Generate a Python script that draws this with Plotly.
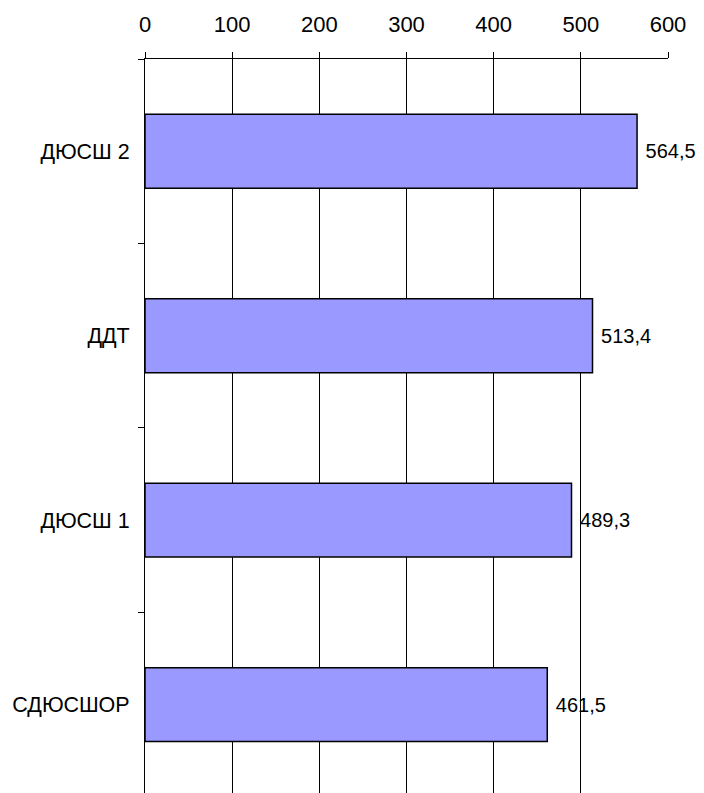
import plotly.graph_objects as go

# data
categories = ["ДЮСШ 2", "ДДТ", "ДЮСШ 1", "СДЮСШОР"]
values = [564.5, 513.4, 489.3, 461.5]
value_labels = ["564,5", "513,4", "489,3", "461,5"]
x_ticks = [0, 100, 200, 300, 400, 500, 600]

FONT = "Liberation Sans, Arial, sans-serif"

fig = go.Figure(
    go.Bar(
        x=values,
        y=categories,
        orientation="h",
        width=0.4,
        marker=dict(color="#9999FF", line=dict(color="black", width=1.5)),
        # leading space gives the gap between bar end and label
        text=[" " + s for s in value_labels],
        textposition="outside",
        textfont=dict(size=20, color="black", family=FONT),
        cliponaxis=False,
    )
)

# page body adds an 8px offset, margins compensate for it
fig.update_layout(
    width=704,
    height=793,
    plot_bgcolor="white",
    paper_bgcolor="white",
    font=dict(family=FONT, size=22, color="black"),
    margin=dict(l=137, r=44, t=51, b=0),
    showlegend=False,
)

fig.update_xaxes(
    side="top",
    range=[0, 600],
    tickvals=x_ticks,
    ticks="outside",
    ticklen=6,
    tickcolor="black",
    showline=True,
    linecolor="black",
    linewidth=1,
    showgrid=True,
    gridcolor="black",
    gridwidth=1,
    zeroline=False,
    automargin=False,
    ticklabelstandoff=11,
)

fig.update_yaxes(
    type="category",
    range=[3.522, -0.5],
    ticks="outside",
    tickson="boundaries",
    ticklen=6,
    tickcolor="black",
    showline=True,
    linecolor="black",
    linewidth=1,
    showgrid=False,
    automargin=False,
    ticklabelstandoff=10,
    tickfont=dict(size=21.5),
)

fig.write_html("out.html")
